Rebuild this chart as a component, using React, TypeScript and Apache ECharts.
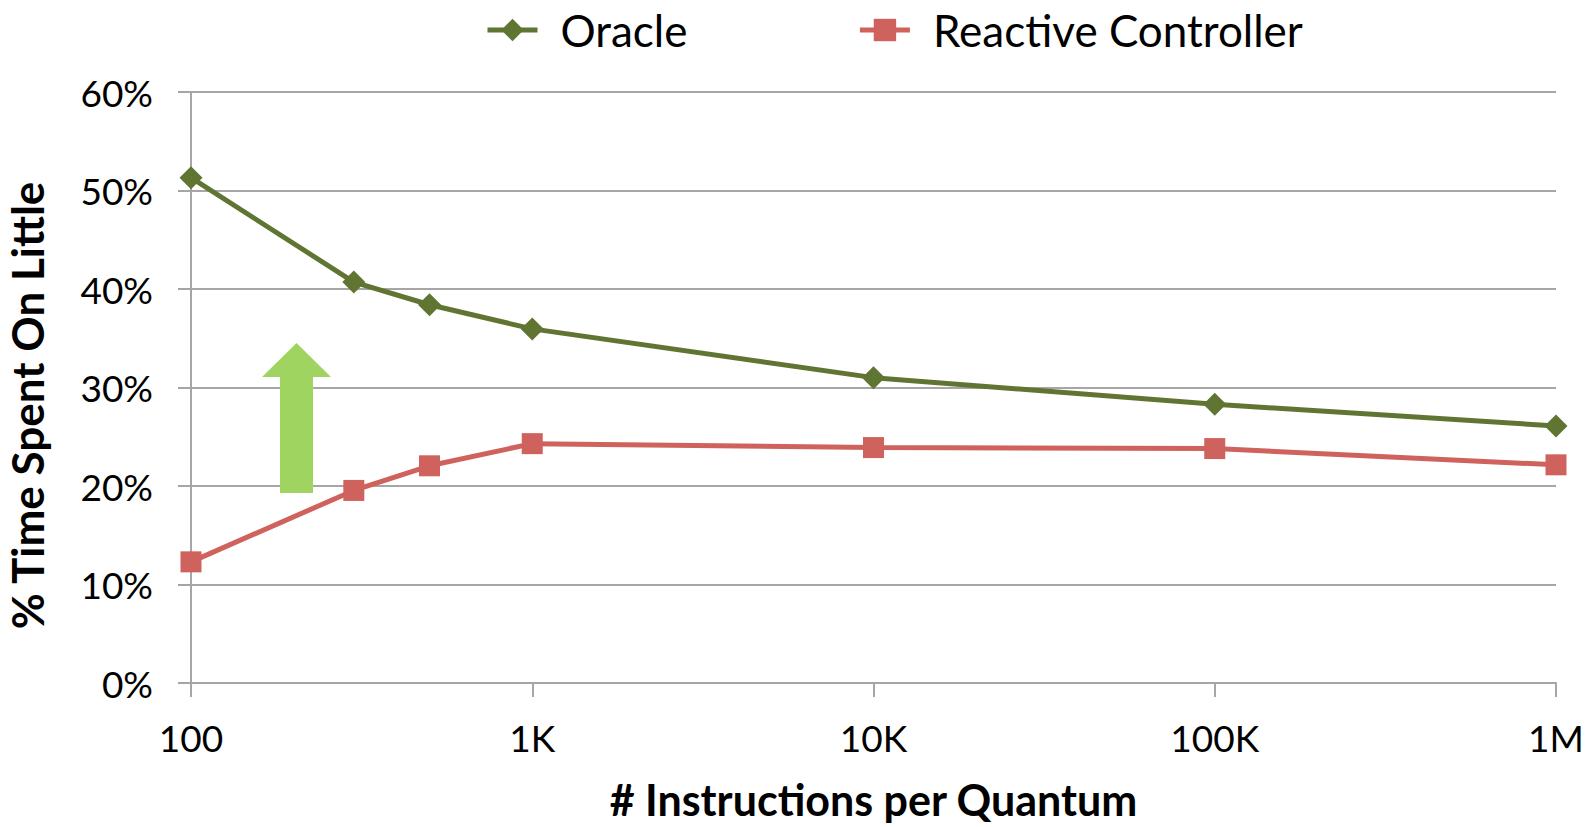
import React, { useEffect, useRef } from "react";
import * as echarts from "echarts";

const xValues = [100, 300, 500, 1000, 10000, 100000, 1000000];
const oracle = [51.3, 40.7, 38.4, 35.95, 31.0, 28.3, 26.1];
const reactive = [12.3, 19.55, 22.05, 24.3, 23.9, 23.8, 22.15];
const xTickLabels: Record<number, string> = {
  100: "100",
  1000: "1K",
  10000: "10K",
  100000: "100K",
  1000000: "1M",
};
const seriesNames = ["Oracle", "Reactive Controller"];

const FONT = "Lato, 'Open Sans', sans-serif";

export default function App() {
  const ref = useRef<HTMLDivElement>(null);
  useEffect(() => {
    document.body.style.margin = "0";
    const chart = echarts.init(ref.current!, undefined, { renderer: "svg" });
    const grey = "#a6a6a6";
    chart.setOption({
      animation: false,
      backgroundColor: "#ffffff",
      textStyle: { fontFamily: FONT, color: "#000" },
      legend: {
        left: 480,
        top: 3,
        itemWidth: 50,
        itemHeight: 28,
        itemGap: 170,
        lineStyle: { width: 5 },
        textStyle: {
          fontSize: 44,
          lineHeight: 44,
          color: "#000",
          fontFamily: FONT,
          padding: [0, 0, 0, 18],
        },
        data: seriesNames,
      },
      grid: {
        left: 191,
        right: 40,
        top: 92,
        bottom: 144,
        containLabel: false,
        outerBoundsMode: "none",
      },
      xAxis: {
        type: "log",
        logBase: 10,
        min: 100,
        max: 1000000,
        name: "# Instructions per Quantum",
        nameLocation: "middle",
        nameGap: 95,
        nameTextStyle: {
          fontSize: 43,
          lineHeight: 42,
          fontWeight: "bold",
          color: "#000",
          fontFamily: FONT,
        },
        axisLine: { show: true, lineStyle: { color: grey, width: 2 } },
        axisTick: { show: true, length: 14, lineStyle: { color: grey, width: 2 } },
        minorTick: { show: false },
        splitLine: { show: false },
        axisLabel: {
          fontSize: 37,
          color: "#000",
          margin: 36,
          fontFamily: FONT,
          formatter: (v: number) => xTickLabels[Math.round(v)] ?? "",
        },
      },
      yAxis: {
        type: "value",
        min: 0,
        max: 60,
        interval: 10,
        name: "% Time Spent On Little",
        nameLocation: "middle",
        nameGap: 142,
        nameRotate: 90,
        nameTextStyle: {
          fontSize: 44,
          fontWeight: "bold",
          color: "#000",
          fontFamily: FONT,
          padding: [0, 36, 0, 0],
        },
        axisLine: { show: true, lineStyle: { color: grey, width: 2 } },
        axisTick: { show: true, length: 13, lineStyle: { color: grey, width: 2 } },
        splitLine: { show: true, lineStyle: { color: grey, width: 2 } },
        axisLabel: {
          fontSize: 37,
          color: "#000",
          margin: 38,
          fontFamily: FONT,
          formatter: "{value}%",
        },
      },
      series: [
        {
          name: seriesNames[0],
          type: "line",
          data: xValues.map((x, i) => [x, oracle[i]]),
          symbol: "diamond",
          symbolSize: 23,
          lineStyle: { color: "#617533", width: 5 },
          itemStyle: { color: "#617533" },
          z: 3,
        },
        {
          name: seriesNames[1],
          type: "line",
          data: xValues.map((x, i) => [x, reactive[i]]),
          symbol: "rect",
          symbolSize: 21,
          lineStyle: { color: "#cf625c", width: 5 },
          itemStyle: { color: "#cf625c" },
          z: 2,
        },
      ],
      graphic: [
        {
          type: "polygon",
          z: 10,
          shape: {
            points: [
              [280, 493],
              [280, 377],
              [262, 377],
              [296.5, 343],
              [331, 377],
              [313, 377],
              [313, 493],
            ],
          },
          style: { fill: "#a0d460" },
        },
      ],
    });
    return () => chart.dispose();
  }, []);
  return <div ref={ref} style={{ width: 1596, height: 827 }} />;
}
